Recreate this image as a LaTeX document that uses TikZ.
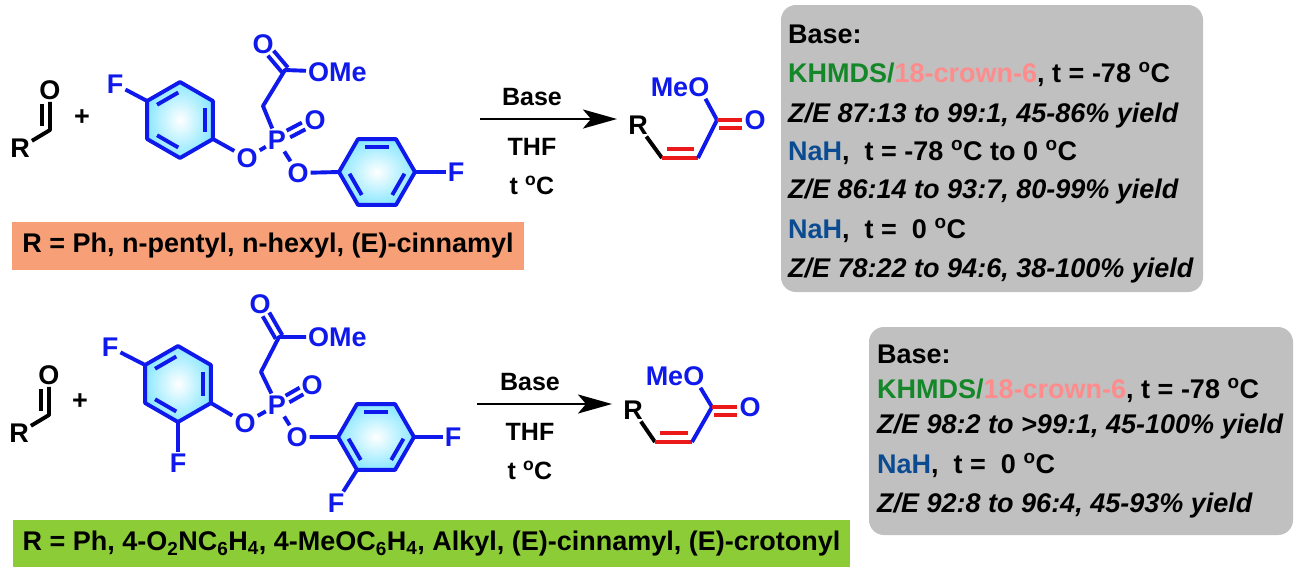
\documentclass[tikz,border=0pt]{standalone}
\usepackage{fontspec}
\setmainfont{Liberation Sans}
\usetikzlibrary{arrows.meta, calc}

\definecolor{bondblue}{RGB}{15,25,235}
\definecolor{dbred}{RGB}{235,25,25}
\definecolor{ringcyan}{RGB}{140,232,255}
\definecolor{boxgray}{RGB}{192,192,192}
\definecolor{rorange}{RGB}{247,160,120}
\definecolor{rgreen}{RGB}{140,205,55}
\definecolor{khgreen}{RGB}{20,135,40}
\definecolor{crownpink}{RGB}{255,140,140}
\definecolor{nahblue}{RGB}{10,75,145}

\tikzset{
    atom/.style={inner sep=2pt, font=\fontsize{27}{27}\selectfont\bfseries},
    batom/.style={atom, text=bondblue},
    lbl/.style={inner sep=0pt, font=\fontsize{25}{25}\selectfont\bfseries},
    blk/.style={line width=3.9pt, line join=round},
    bond/.style={blk, draw=bondblue},
    dbl/.style={blk, draw=dbred},
    rxn/.style={line width=2.6pt, -{Stealth[length=34pt, width=19pt, inset=8pt]}},
    rbox/.style={inner sep=0pt, font=\fontsize{27}{27}\selectfont\bfseries},
    gbox/.style={fill=boxgray, rounded corners=15pt, inner sep=0pt},
    cond/.style={anchor=base west, inner sep=0pt, font=\fontsize{27}{27}\selectfont\bfseries}
}

% aryl ring: #1 = centre coordinate, #2 = angle of first corner
\newcommand{\arylring}[2]{%
    \foreach \k in {1,...,6}
        \coordinate (#1\k) at ($(#1)+({#2+60*(\k-1)}:38)$);
    \shade[inner color=white, outer color=ringcyan] (#11) -- (#12) -- (#13) -- (#14) -- (#15) -- (#16) -- cycle;
    \draw[bond] (#11) -- (#12) -- (#13) -- (#14) -- (#15) -- (#16) -- cycle;
    \foreach \a/\b in {2/3,4/5,6/1}
        \draw[bond, shorten <=2pt, shorten >=2pt] ($(#1)!0.75!(#1\a)$) -- ($(#1)!0.75!(#1\b)$);
}

% double bond between two labelled atoms: #1, #2 = atom nodes
\newcommand{\dbond}[2]{%
    \draw[bond] ($($(#1)!0.3!(#2)$)!3.8pt!90:(#2)$) -- ($($(#1)!0.7!(#2)$)!3.8pt!90:(#2)$);
    \draw[bond] ($($(#1)!0.3!(#2)$)!3.8pt!-90:(#2)$) -- ($($(#1)!0.7!(#2)$)!3.8pt!-90:(#2)$);
}

\begin{document}
\begin{tikzpicture}[x=1pt, y=-1pt]
    \path[use as bounding box, fill=white] (0,0) rectangle (1299,574);

    % upper scheme: aldehyde
    \node[atom] (ald1r) at (20,148) {R};
    \coordinate (ald1c) at (50,130);
    \node[atom] (ald1o) at (50,90) {O};
    \draw[blk] (ald1r) -- (ald1c) -- (ald1o);
    \draw[blk] ($(ald1c)+(-8,-4)$) -- ($(ald1o.south)+(-8,2)$);
    \node[atom] (plus1) at (82,118) {+};

    % upper phosphonate
    \coordinate (ra) at (180,120);
    \arylring{ra}{270}
    \coordinate (rb) at (377,172);
    \arylring{rb}{180}
    \node[batom] (fa) at (115,84) {F};
    \node[batom] (oa) at (247,158) {O};
    \node[batom] (pa) at (277,140) {P};
    \node[batom] (oxa) at (315,120) {O};
    \node[batom] (oba) at (298,173) {O};
    \coordinate (ch2a) at (263,106);
    \coordinate (cca) at (285,70);
    \node[batom] (oca) at (263,44) {O};
    \node[batom, anchor=west] (omea) at (306,72) {OMe};
    \node[batom] (fb) at (456,172) {F};
    \draw[bond] (ra6) -- (fa);
    \draw[bond] (ra3) -- (oa) -- (pa) -- (oba) -- (rb1);
    \draw[bond] (pa) -- (ch2a) -- (cca) -- (omea);
    \draw[bond] (rb4) -- (fb);
    \dbond{pa}{oxa}
    \draw[bond, shorten >=12pt] ($(cca)!3.8pt!90:(oca)$) -- ($(oca)!3.8pt!-90:(cca)$);
    \draw[bond, shorten >=12pt] ($(cca)!3.8pt!-90:(oca)$) -- ($(oca)!3.8pt!90:(cca)$);

    \node[rbox, fill=rorange, minimum width=512pt, minimum height=48pt] (rlist1) at (268,246)
        {R = Ph, n-pentyl, n-hexyl, (E)-cinnamyl};

    % upper arrow
    \coordinate (arr1s) at (480,119);
    \coordinate (arr1e) at (617,119);
    \draw[rxn] (arr1s) -- (arr1e);
    \node[lbl] (base1) at (532,97) {Base};
    \node[lbl] (thf1) at (532,147) {THF};
    \node[lbl] (temp1) at (532,185) {t \textsuperscript{o}C};

    % upper product
    \node[atom] (pr1) at (638,125) {R};
    \coordinate (pv1) at (662,158);
    \coordinate (pw1) at (698,158);
    \coordinate (pc1) at (717,120);
    \node[batom] (po1) at (755,120) {O};
    \node[batom] (pm1) at (680,87) {MeO};
    \draw[blk] (pr1) -- (pv1);
    \draw[dbl] (pv1) -- (pw1);
    \draw[dbl] ($(pv1)+(5,-9)$) -- ($(pw1)+(-4,-9)$);
    \draw[bond] (pw1) -- (pc1) -- ([xshift=-6pt]pm1.south east);
    \draw[dbl] (pc1) -- (po1);
    \draw[dbl] ($(pc1)+(2,8)$) -- ($(po1.west)+(0,8)$);

    % upper conditions
    \node[gbox, minimum width=422pt, minimum height=287pt] (cond1) at (992,148.5) {};
    \node[cond] (c1a) at (788,43) {Base:};
    \node[cond] (c1b) at (788,82) {\textcolor{khgreen}{KHMDS/}\textcolor{crownpink}{18-crown-6}, t = -78 \textsuperscript{o}C};
    \node[cond] (c1c) at (788,122) {\itshape Z/E 87:13 to 99:1, 45-86\% yield};
    \node[cond] (c1d) at (788,160) {\textcolor{nahblue}{NaH},\ \ t = -78 \textsuperscript{o}C to 0 \textsuperscript{o}C};
    \node[cond] (c1e) at (788,198) {\itshape Z/E 86:14 to 93:7, 80-99\% yield};
    \node[cond] (c1f) at (788,238) {\textcolor{nahblue}{NaH},\ \ t =\ \ 0 \textsuperscript{o}C};
    \node[cond] (c1g) at (788,277) {\itshape Z/E 78:22 to 94:6, 38-100\% yield};

    % lower scheme: aldehyde
    \node[atom] (ald2r) at (19,433) {R};
    \coordinate (ald2c) at (49,415);
    \node[atom] (ald2o) at (49,375) {O};
    \draw[blk] (ald2r) -- (ald2c) -- (ald2o);
    \draw[blk] ($(ald2c)+(-8,-4)$) -- ($(ald2o.south)+(-8,2)$);
    \node[atom] (plus2) at (80,402) {+};

    % lower phosphonate
    \coordinate (rc) at (178,384);
    \arylring{rc}{270}
    \coordinate (rd) at (376,437);
    \arylring{rd}{180}
    \node[batom] (fc) at (110,347) {F};
    \node[batom] (fd) at (178,463) {F};
    \node[batom] (oc) at (245,423) {O};
    \node[batom] (pc) at (277,405) {P};
    \node[batom] (oxc) at (312,385) {O};
    \node[batom] (obc) at (297,437) {O};
    \coordinate (ch2c) at (261,372);
    \coordinate (ccc) at (279,337);
    \node[batom] (occ) at (260,304) {O};
    \node[batom, anchor=west] (omec) at (306,337) {OMe};
    \node[batom] (fe) at (453,437) {F};
    \node[batom] (ff) at (336,503) {F};
    \draw[bond] (rc6) -- (fc);
    \draw[bond] (rc4) -- (fd);
    \draw[bond] (rc3) -- (oc) -- (pc) -- (obc) -- (rd1);
    \draw[bond] (pc) -- (ch2c) -- (ccc) -- (omec);
    \draw[bond] (rd4) -- (fe);
    \draw[bond] (rd6) -- (ff);
    \dbond{pc}{oxc}
    \draw[bond, shorten >=12pt] ($(ccc)!3.8pt!90:(occ)$) -- ($(occ)!3.8pt!-90:(ccc)$);
    \draw[bond, shorten >=12pt] ($(ccc)!3.8pt!-90:(occ)$) -- ($(occ)!3.8pt!90:(ccc)$);

    \node[rbox, fill=rgreen, minimum width=837pt, minimum height=47pt] (rlist2) at (431.5,543.5)
        {R = Ph, 4-O\textsubscript{2}NC\textsubscript{6}H\textsubscript{4}, 4-MeOC\textsubscript{6}H\textsubscript{4}, Alkyl, (E)-cinnamyl, (E)-crotonyl};

    % lower arrow
    \coordinate (arr2s) at (477,404);
    \coordinate (arr2e) at (612,404);
    \draw[rxn] (arr2s) -- (arr2e);
    \node[lbl] (base2) at (530,382) {Base};
    \node[lbl] (thf2) at (530,432) {THF};
    \node[lbl] (temp2) at (530,470) {t \textsuperscript{o}C};

    % lower product
    \node[atom] (pr2) at (633,410) {R};
    \coordinate (pv2) at (655,442);
    \coordinate (pw2) at (692,442);
    \coordinate (pc2) at (712,407);
    \node[batom] (po2) at (750,407) {O};
    \node[batom] (pm2) at (675,376) {MeO};
    \draw[blk] (pr2) -- (pv2);
    \draw[dbl] (pv2) -- (pw2);
    \draw[dbl] ($(pv2)+(5,-9)$) -- ($(pw2)+(-4,-9)$);
    \draw[bond] (pw2) -- (pc2) -- ([xshift=-6pt]pm2.south east);
    \draw[dbl] (pc2) -- (po2);
    \draw[dbl] ($(pc2)+(2,8)$) -- ($(po2.west)+(0,8)$);

    % lower conditions
    \node[gbox, minimum width=424pt, minimum height=208pt] (cond2) at (1081,431) {};
    \node[cond] (c2a) at (877,363) {Base:};
    \node[cond] (c2b) at (877,398) {\textcolor{khgreen}{KHMDS/}\textcolor{crownpink}{18-crown-6}, t = -78 \textsuperscript{o}C};
    \node[cond] (c2c) at (877,433) {\itshape Z/E 98:2 to >99:1, 45-100\% yield};
    \node[cond] (c2d) at (877,473) {\textcolor{nahblue}{NaH},\ \ t =\ \ 0 \textsuperscript{o}C};
    \node[cond] (c2e) at (877,512) {\itshape Z/E 92:8 to 96:4, 45-93\% yield};
\end{tikzpicture}
\end{document}
